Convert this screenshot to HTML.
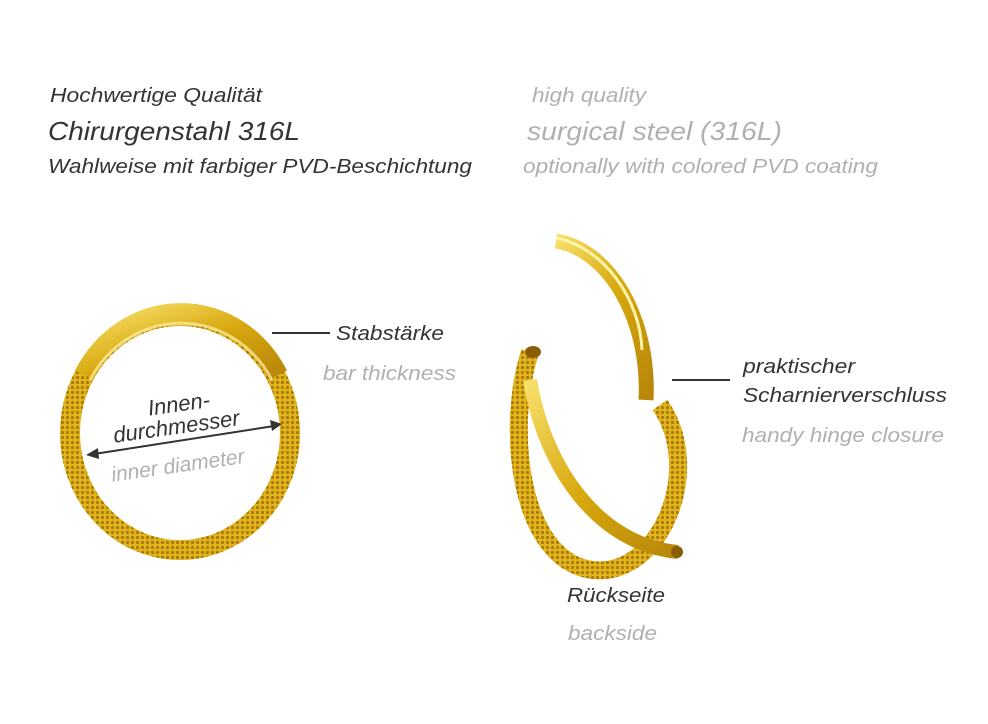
<!DOCTYPE html>
<html><head><meta charset="utf-8"><style>
body{margin:0;width:988px;height:724px;background:#fff;overflow:hidden}
svg{display:block}
text{font-family:"Liberation Sans",sans-serif;font-style:italic}
</style></head><body>
<svg width="988" height="724" viewBox="0 0 988 724">
<defs>
<linearGradient id="g" x1="0" y1="0" x2="1" y2="1">
<stop offset="0" stop-color="#f7e06a"/><stop offset="0.5" stop-color="#d8a80e"/><stop offset="1" stop-color="#b8860a"/></linearGradient>
<pattern id="dots" width="5" height="5" patternUnits="userSpaceOnUse">
<rect width="5" height="5" fill="#e2b51c"/><circle cx="2.5" cy="2.5" r="1.6" fill="#a87a08"/></pattern>
</defs>
<g fill="#333">
<text x="50" y="102" font-size="20" textLength="212" lengthAdjust="spacingAndGlyphs">Hochwertige Qualität</text>
<text x="48" y="140" font-size="26" textLength="252" lengthAdjust="spacingAndGlyphs">Chirurgenstahl 316L</text>
<text x="48" y="173" font-size="20" textLength="424" lengthAdjust="spacingAndGlyphs">Wahlweise mit farbiger PVD-Beschichtung</text>
<text x="336" y="340" font-size="20" textLength="108" lengthAdjust="spacingAndGlyphs">Stabstärke</text>
<text x="743" y="373" font-size="20" textLength="112" lengthAdjust="spacingAndGlyphs">praktischer</text>
<text x="743" y="402" font-size="20" textLength="204" lengthAdjust="spacingAndGlyphs">Scharnierverschluss</text>
<text x="567" y="602" font-size="20" textLength="98" lengthAdjust="spacingAndGlyphs">Rückseite</text>
</g>
<g fill="#b0b0b0">
<text x="532" y="102" font-size="20" textLength="114" lengthAdjust="spacingAndGlyphs">high quality</text>
<text x="527" y="140" font-size="26" textLength="255" lengthAdjust="spacingAndGlyphs">surgical steel (316L)</text>
<text x="523" y="173" font-size="20" textLength="355" lengthAdjust="spacingAndGlyphs">optionally with colored PVD coating</text>
<text x="323" y="380" font-size="20" textLength="133" lengthAdjust="spacingAndGlyphs">bar thickness</text>
<text x="742" y="442" font-size="20" textLength="202" lengthAdjust="spacingAndGlyphs">handy hinge closure</text>
<text x="568" y="640" font-size="20" textLength="89" lengthAdjust="spacingAndGlyphs">backside</text>
</g>
<line x1="272" y1="333" x2="330" y2="333" stroke="#333" stroke-width="2"/>
<line x1="672" y1="380" x2="730" y2="380" stroke="#333" stroke-width="2"/>
<!-- left ring -->
<ellipse cx="180" cy="433" rx="110" ry="117" fill="none" stroke="url(#dots)" stroke-width="20"/>
<path d="M84,375 A110,117 0 0 1 278,375" fill="none" stroke="url(#g)" stroke-width="20"/>
<path d="M90,380 A104,110 0 0 1 272,380" fill="none" stroke="#fff3a8" stroke-width="3" opacity=".7"/>
<g fill="#333" transform="rotate(-8 190 420)">
<text x="150" y="410" font-size="22">Innen-</text>
<text x="112" y="432" font-size="22">durchmesser</text>
</g>
<line x1="94" y1="454" x2="274" y2="426" stroke="#333" stroke-width="2"/>
<polygon points="86,455 98,448 99,459" fill="#333"/>
<polygon points="282,424 270,420 272,431" fill="#333"/>
<text x="110" y="472" font-size="21" fill="#b0b0b0" transform="rotate(-8 180 460)">inner diameter</text>
<!-- right ring -->
<path d="M530,352 C505,430 520,560 592,570 C660,578 705,470 660,405" fill="none" stroke="url(#dots)" stroke-width="18"/>
<path d="M530,380 C545,470 600,545 678,552" fill="none" stroke="url(#g)" stroke-width="14"/>
<path d="M556,241 C610,250 650,320 646,400" fill="none" stroke="url(#g)" stroke-width="15"/>
<path d="M556,238 C605,248 640,300 642,350" fill="none" stroke="#fff3a8" stroke-width="3"/>
<ellipse cx="533" cy="352" rx="8" ry="6" fill="#8a5e05"/>
<circle cx="677" cy="552" r="6" fill="#8a5e05"/>
</svg>
</body></html>
